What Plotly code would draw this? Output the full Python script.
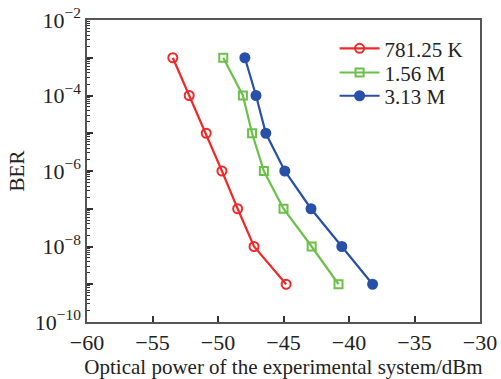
import plotly.graph_objects as go

names = ["781.25 K", "1.56 M", "3.13 M"]
ber = [1e-3, 1e-4, 1e-5, 1e-6, 1e-7, 1e-8, 1e-9]
power_red = [-53.45, -52.2, -50.9, -49.7, -48.5, -47.25, -44.8]
power_green = [-49.6, -48.1, -47.4, -46.5, -45.0, -42.85, -40.8]
power_blue = [-47.95, -47.1, -46.35, -44.9, -42.9, -40.55, -38.2]
colors = ["#ee2a2a", "#6cc04a", "#2850a8"]
symbols = ["circle-open", "square-open", "circle"]
legend_ids = ["legend", "legend2", "legend3"]
legend_y = [0.905, 0.825, 0.748]

font = "Liberation Serif, Times New Roman, serif"

fig = go.Figure()
for name, xs, c, s, lg in zip(names, [power_red, power_green, power_blue], colors, symbols, legend_ids):
    fig.add_trace(go.Scatter(
        x=xs, y=ber, name=name, mode="lines+markers", legend=lg,
        line=dict(color=c, width=2.2),
        marker=dict(symbol=s, size=9 if s != "square-open" else 8, color=c,
                    line=dict(color=c, width=2)),
    ))

major = [10.0 ** e for e in range(-10, -1)]
labels = ["10<sup>−%d</sup>" % (-e) if e % 2 == 0 else "" for e in range(-10, -1)]
minor = [m * 10.0 ** e for e in range(-10, -2) for m in range(2, 10)]

legends = {}
for lg, yy in zip(legend_ids, legend_y):
    legends[lg] = dict(x=0.63, y=yy, xanchor="left", yanchor="middle",
                       bgcolor="rgba(0,0,0,0)", font=dict(size=21, family=font),
                       itemwidth=40)

fig.update_layout(
    width=501, height=379,
    margin=dict(l=87, r=21, t=20, b=57, autoexpand=False),
    paper_bgcolor="white", plot_bgcolor="white",
    font=dict(family=font, size=21, color="#222"),
    showlegend=True,
    **legends,
    xaxis=dict(
        range=[-60, -30], tickvals=[-60, -55, -50, -45, -40, -35, -30],
        ticktext=["−60", "−55", "−50", "−45", "−40", "−35", "−30"],
        ticks="inside", ticklen=6, tickwidth=1.5, tickcolor="#333",
        showline=True, linecolor="#555", linewidth=1.5, mirror=True,
        showgrid=False, zeroline=False,
        title=dict(text="Optical power of the experimental system/dBm",
                   font=dict(size=21, family=font), standoff=0),
        tickfont=dict(size=22, family=font),
    ),
    yaxis=dict(
        type="log", range=[-10, -2], tickvals=major, ticktext=labels,
        ticks="inside", ticklen=6, tickwidth=1.5, tickcolor="#333",
        minor=dict(tickvals=minor, ticks="inside", ticklen=3, tickcolor="#333", tickwidth=1),
        showline=True, linecolor="#555", linewidth=1.5, mirror=True,
        showgrid=False, zeroline=False,
        title=dict(text="BER", font=dict(size=21, family=font), standoff=4),
        tickfont=dict(size=22, family=font),
    ),
)
fig.write_html("out.html")
